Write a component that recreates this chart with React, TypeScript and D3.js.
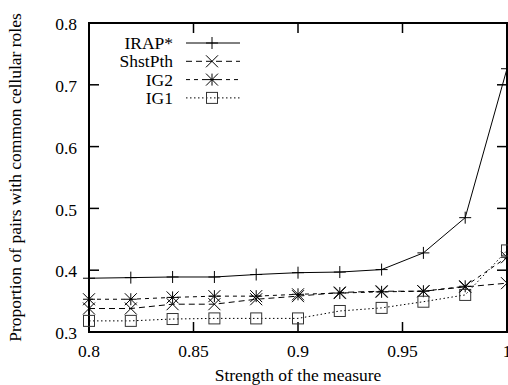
import { useEffect, useRef } from "react";
import * as d3 from "d3";

// x values (strength of the measure)
const strength = [0.8, 0.82, 0.84, 0.86, 0.88, 0.9, 0.92, 0.94, 0.96, 0.98, 1.0];

const irap = [0.387, 0.388, 0.389, 0.389, 0.393, 0.396, 0.397, 0.401, 0.428, 0.485, 0.726];
const shstPth = [0.338, 0.338, 0.345, 0.345, 0.353, 0.358, 0.364, 0.366, 0.366, 0.373, 0.379];
const ig2 = [0.353, 0.353, 0.356, 0.358, 0.358, 0.361, 0.363, 0.365, 0.366, 0.374, 0.421];
const ig1 = [0.318, 0.318, 0.321, 0.322, 0.322, 0.322, 0.334, 0.339, 0.349, 0.36, 0.432];

const xTicks = [0.8, 0.85, 0.9, 0.95, 1];
const yTicks = [0.3, 0.4, 0.5, 0.6, 0.7, 0.8];

const seriesNames = ["IRAP*", "ShstPth", "IG2", "IG1"];
const seriesValues = [irap, shstPth, ig2, ig1];
const dashes = [null, "6,4", "4,4", "1.5,2.5"];
const markers = ["plus", "cross", "star", "square"];

const FONT = "'Liberation Serif', 'Times New Roman', serif";

export default function App() {
    const svgRef = useRef<SVGSVGElement | null>(null);

    useEffect(() => {
        const height = 385;
        const m = { top: 23, bottom: 53, left: 89 };
        const h = height - m.top - m.bottom;

        // plot runs from x=89 to ~507 (right edge is cut by the window)
        const x = d3.scaleLinear().domain([0.8, 1]).range([0, 418]);
        const y = d3.scaleLinear().domain([0.3, 0.8]).range([h, 0]);

        const svg = d3.select(svgRef.current!);
        svg.selectAll("*").remove();

        const g = svg.append("g").attr("transform", `translate(${m.left},${m.top})`);

        // tick marks on all four sides (inward)
        const tl = 10;
        xTicks.forEach((t) => {
            g.append("line").attr("x1", x(t)).attr("x2", x(t)).attr("y1", h).attr("y2", h - tl)
                .attr("stroke", "#000").attr("stroke-width", 1.5);
            g.append("line").attr("x1", x(t)).attr("x2", x(t)).attr("y1", 0).attr("y2", tl)
                .attr("stroke", "#000").attr("stroke-width", 1.5);
            g.append("text").attr("x", x(t)).attr("y", h + 19).attr("dy", "0.35em")
                .attr("text-anchor", "middle").style("font-family", FONT).style("font-size", "17.5px")
                .text(d3.format("")(t));
        });
        yTicks.forEach((t) => {
            g.append("line").attr("x1", 0).attr("x2", tl).attr("y1", y(t)).attr("y2", y(t))
                .attr("stroke", "#000").attr("stroke-width", 1.5);
            g.append("line").attr("x1", x(1)).attr("x2", x(1) - tl).attr("y1", y(t)).attr("y2", y(t))
                .attr("stroke", "#000").attr("stroke-width", 1.5);
            g.append("text").attr("x", -12).attr("y", y(t) + 1).attr("dy", "0.35em")
                .attr("text-anchor", "end").style("font-family", FONT).style("font-size", "17.5px")
                .text(t.toFixed(1));
        });

        // plot frame
        g.append("rect").attr("x", 0).attr("y", 0).attr("width", x(1)).attr("height", h)
            .attr("fill", "none").attr("stroke", "#000").attr("stroke-width", 2);

        const drawMarker = (sel: any, type: string, cx: number, cy: number) => {
            const s = 6;
            const ln = (x1: number, y1: number, x2: number, y2: number) =>
                sel.append("line").attr("x1", x1).attr("y1", y1).attr("x2", x2).attr("y2", y2)
                    .attr("stroke", "#000").attr("stroke-width", 1);
            if (type === "plus" || type === "star") {
                ln(cx - s, cy, cx + s, cy);
                ln(cx, cy - s, cx, cy + s);
            }
            if (type === "cross" || type === "star") {
                ln(cx - s, cy - s, cx + s, cy + s);
                ln(cx - s, cy + s, cx + s, cy - s);
            }
            if (type === "square") {
                sel.append("rect").attr("x", cx - 5.5).attr("y", cy - 5.5).attr("width", 11).attr("height", 11)
                    .attr("fill", "none").attr("stroke", "#333").attr("stroke-width", 1);
            }
        };

        const line = d3.line<number>()
            .x((_, i) => x(strength[i]))
            .y((d) => y(d));

        seriesValues.forEach((vals, k) => {
            const p = g.append("path").attr("d", line(vals)!).attr("fill", "none")
                .attr("stroke", "#000").attr("stroke-width", 1);
            if (dashes[k]) p.attr("stroke-dasharray", dashes[k]!);
            const mg = g.append("g");
            vals.forEach((v, i) => drawMarker(mg, markers[k], x(strength[i]), y(v)));
        });

        // legend
        const lg = svg.append("g");
        seriesNames.forEach((name, k) => {
            const ly = 43 + k * 18.3;
            lg.append("text").attr("x", 173).attr("y", ly).attr("dy", "0.35em")
                .attr("text-anchor", "end").style("font-family", FONT).style("font-size", "17.5px")
                .text(name);
            const p = lg.append("line").attr("x1", 186).attr("x2", 240).attr("y1", ly).attr("y2", ly)
                .attr("stroke", "#000").attr("stroke-width", 1);
            if (dashes[k]) p.attr("stroke-dasharray", dashes[k]!);
            drawMarker(lg, markers[k], 212, ly);
        });

        // axis titles
        svg.append("text").attr("x", m.left + x(0.9)).attr("y", 375).attr("dy", "0.35em")
            .attr("text-anchor", "middle").style("font-family", FONT).style("font-size", "17.5px")
            .text("Strength of the measure");
        svg.append("text").attr("transform", `translate(15,${m.top + h / 2})) rotate(-90)`.replace("))", ")"))
            .attr("dy", "0.35em").attr("text-anchor", "middle")
            .style("font-family", FONT).style("font-size", "17.5px")
            .text("Proportion of pairs with common cellular roles");
    }, []);

    return (
        <svg ref={svgRef} width={508} height={385}
            style={{ position: "absolute", left: 0, top: 0, background: "#fff" }} />
    );
}
